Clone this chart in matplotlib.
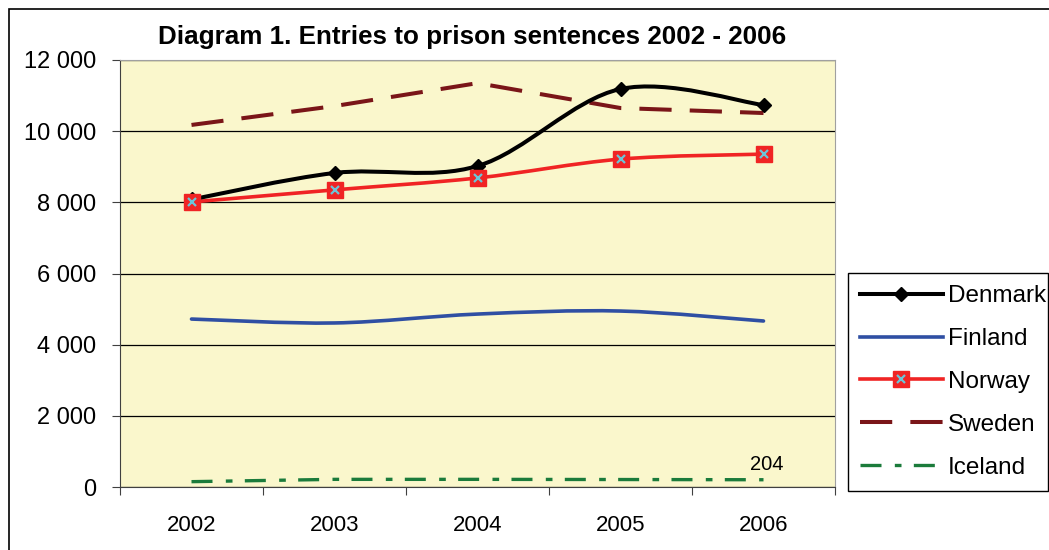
import matplotlib
matplotlib.use("Agg")
import matplotlib.pyplot as plt
from matplotlib.path import Path
from matplotlib.patches import PathPatch, Rectangle
from matplotlib.lines import Line2D
from matplotlib.legend_handler import HandlerTuple
from matplotlib.ticker import FuncFormatter, FixedLocator

plt.rcParams["font.family"] = ["Liberation Sans", "DejaVu Sans"]

years = ["2002", "2003", "2004", "2005", "2006"]
denmark = [8080, 8825, 9020, 11185, 10735]
finland = [4720, 4610, 4860, 4945, 4665]
norway = [8010, 8350, 8685, 9215, 9355]
sweden = [10175, 10705, 11350, 10650, 10510]
iceland = [150, 215, 215, 210, 204]

bg = "#FAF7CC"
c_den = "black"
c_fin = "#2F4FA3"
c_nor = "#F02424"
c_nor_x = "#6CC4D8"
c_swe = "#7A1518"
c_ice = "#1B7B3B"


def smooth_path(xs, ys):
    # excel-like smoothed line (catmull-rom as cubic bezier)
    n = len(xs)
    verts = [(xs[0], ys[0])]
    codes = [Path.MOVETO]
    for i in range(n - 1):
        a = i - 1 if i > 0 else i
        d = i + 2 if i + 2 < n else i + 1
        c1 = (xs[i] + (xs[i + 1] - xs[a]) / 6, ys[i] + (ys[i + 1] - ys[a]) / 6)
        c2 = (xs[i + 1] - (xs[d] - xs[i]) / 6, ys[i + 1] - (ys[d] - ys[i]) / 6)
        verts += [c1, c2, (xs[i + 1], ys[i + 1])]
        codes += [Path.CURVE4] * 3
    return Path(verts, codes)


fig = plt.figure(figsize=(10.49, 5.5), dpi=100)
ax = fig.add_axes([120 / 1049, 63 / 550, 715 / 1049, 427 / 550])
ax.set_facecolor(bg)

x = list(range(len(years)))

ax.add_patch(PathPatch(smooth_path(x, finland), fill=False, edgecolor=c_fin,
                       lw=2.6, capstyle="round", zorder=3))
ax.add_patch(PathPatch(smooth_path(x, norway), fill=False, edgecolor=c_nor,
                       lw=2.6, capstyle="round", zorder=3))
ax.plot(x, sweden, color=c_swe, lw=2.9, linestyle=(0, (8, 4.5)), zorder=3)
ax.plot(x, iceland, color=c_ice, lw=2.4, linestyle=(0, (6.3, 4, 2, 3.7)), zorder=3)
ax.add_patch(PathPatch(smooth_path(x, denmark), fill=False, edgecolor=c_den,
                       lw=2.9, capstyle="round", zorder=4))

ax.plot(x, denmark, linestyle="none", marker="D", ms=7.5, color=c_den, zorder=5)
ax.plot(x, norway, linestyle="none", marker="s", ms=11.5, color=c_nor, mec=c_nor, zorder=5)
ax.plot(x, norway, linestyle="none", marker="x", ms=6, mew=1.6, color=c_nor_x, zorder=6)

ax.annotate(str(iceland[-1]), (x[-1], iceland[-1]), xytext=(2, 11),
            textcoords="offset points", ha="center", va="center", fontsize=14.5)

ax.set_xlim(-0.5, len(years) - 0.5)
ax.set_ylim(0, 12000)
ax.set_yticks(range(0, 12001, 2000))
ax.yaxis.set_major_formatter(FuncFormatter(lambda v, p: f"{int(v):,}".replace(",", " ")))
ax.yaxis.grid(True, color="black", lw=0.9)
ax.set_axisbelow(True)

ax.xaxis.set_major_locator(FixedLocator([i - 0.5 for i in range(len(years) + 1)]))
ax.xaxis.set_minor_locator(FixedLocator(x))
ax.set_xticklabels([])
ax.set_xticklabels(years, minor=True)
ax.tick_params(axis="x", which="major", direction="out", length=6, color="#404040")
ax.tick_params(axis="x", which="minor", length=0, pad=20, labelsize=16)
ax.tick_params(axis="y", direction="out", length=6, color="#404040", pad=11, labelsize=17)

for s in ["left", "bottom"]:
    ax.spines[s].set_color("#404040")
for s in ["top", "right"]:
    ax.spines[s].set_color("#A0A0A0")

fig.text(472 / 1049, 1 - 37 / 550, "Diagram 1. Entries to prison sentences 2002 - 2006",
         ha="center", va="center", fontsize=18.7, fontweight="bold")

# outer chart frame
fig.patches.append(Rectangle((9 / 1049, -0.2), 2, 1.2 - 9 / 550, transform=fig.transFigure,
                             fill=False, edgecolor="black", lw=1.2))

h_den = Line2D([], [], color=c_den, lw=2.9, marker="D", ms=7.5)
h_fin = Line2D([], [], color=c_fin, lw=2.6)
h_nor = (Line2D([], [], color=c_nor, lw=2.6, marker="s", ms=11.5),
         Line2D([], [], linestyle="none", marker="x", ms=6, mew=1.6, color=c_nor_x))
h_swe = Line2D([], [], color=c_swe, lw=2.9, linestyle=(0, (8, 4.5)))
h_ice = Line2D([], [], color=c_ice, lw=2.4, linestyle=(0, (6.3, 4, 2, 3.7)))

leg = fig.legend([h_den, h_fin, h_nor, h_swe, h_ice],
                 ["Denmark", "Finland", "Norway", "Sweden", "Iceland"],
                 handler_map={tuple: HandlerTuple(ndivide=1)},
                 loc="upper left", bbox_to_anchor=(848 / 1049, 1 - 273 / 550, 200 / 1049, 0),
                 mode="expand", bbox_transform=fig.transFigure, borderaxespad=0,
                 fontsize=17.5, frameon=True, fancybox=False, edgecolor="black",
                 framealpha=1, handlelength=3.4, handletextpad=0.2,
                 labelspacing=0.86, borderpad=0.5)
leg.get_frame().set_linewidth(1.0)

fig.savefig("out.png", dpi=100, facecolor="white")
